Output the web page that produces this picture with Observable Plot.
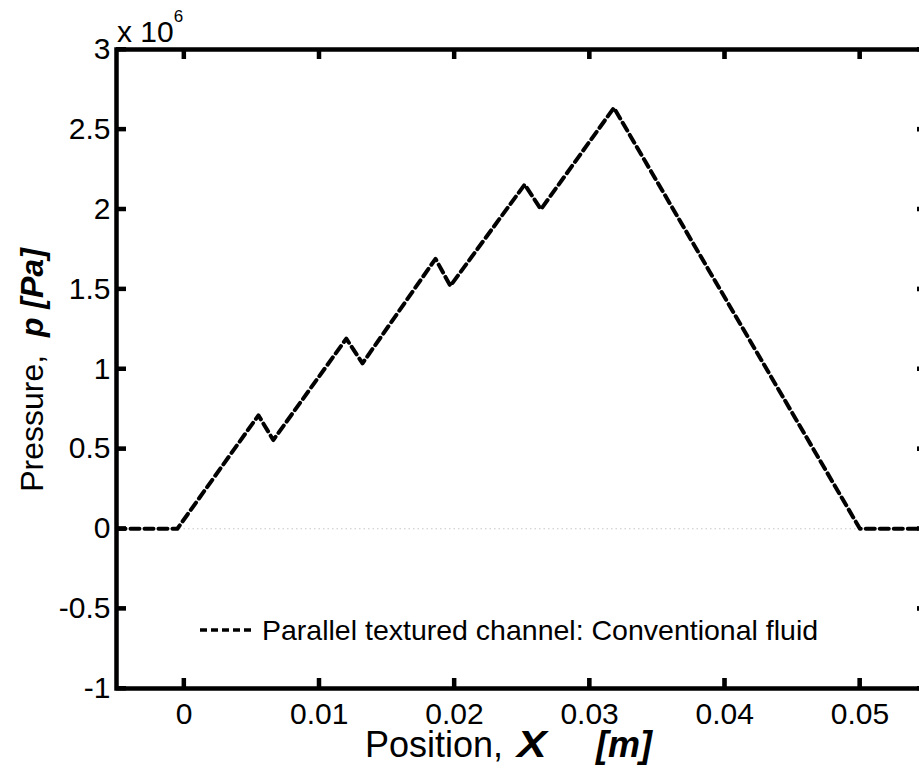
<!DOCTYPE html>
<html>
<head>
<meta charset="utf-8">
<script src="https://cdn.jsdelivr.net/npm/d3@7"></script>
<script src="https://cdn.jsdelivr.net/npm/@observablehq/plot@0.6"></script>
<style>
  html, body { margin: 0; padding: 0; background: #fff; }
  #wrap { width: 919px; height: 769px; overflow: hidden; position: relative; }
  #wrap svg { max-width: none !important; width: 930px !important; height: 769px !important; font-family: "Liberation Sans", Arial, sans-serif; }
</style>
</head>
<body>
<div id="wrap"></div>
<script>
// Position X [m]
const positions = [-0.005, -0.0005, 0.0055, 0.0066, 0.0120, 0.0132, 0.0186, 0.0197, 0.0252, 0.0264, 0.0318, 0.0500, 0.0550];
// Pressure p [Pa] in units of 10^6
const pressures = [0, 0, 0.71, 0.555, 1.19, 1.035, 1.69, 1.52, 2.155, 2.0, 2.635, 0, 0];

const xTicks = [0, 0.01, 0.02, 0.03, 0.04, 0.05];
const xTickLabels = ["0", "0.01", "0.02", "0.03", "0.04", "0.05"];
const yTicks = [-1, -0.5, 0, 0.5, 1, 1.5, 2, 2.5, 3];
const yTickLabels = ["-1", "-0.5", "0", "0.5", "1", "1.5", "2", "2.5", "3"];
const xDomain = [-0.005, 0.055];
const yDomain = [-1, 3];
const seriesName = "Parallel textured channel: Conventional fluid";

const data = positions.map((x, i) => ({x, p: pressures[i]}));
const xLab = d => xTickLabels[xTicks.indexOf(d)];
const yLab = d => yTickLabels[yTicks.indexOf(d)];

const W = 930, H = 769, ML = 116, MR = 3, MT = 49, MB = 81;
const FW = W - ML - MR, FH = H - MT - MB;
const T = 10; // inward tick length in px
const TW = 4; // tick thickness
const tx = T * (xDomain[1] - xDomain[0]) / FW;
const ty = T * (yDomain[1] - yDomain[0]) / FH;
const tk = {stroke: "black", strokeWidth: TW};
const labelStyle = {fontSize: 30, fill: "black", label: null};

const plot = Plot.plot({
  width: W,
  height: H,
  marginLeft: ML,
  marginRight: MR,
  marginTop: MT,
  marginBottom: MB,
  x: {domain: xDomain},
  y: {domain: yDomain},
  style: {fontFamily: "'Liberation Sans', Arial, sans-serif", background: "white", overflow: "visible"},
  marks: [
    Plot.ruleY([0], {stroke: "#c8c8c8", strokeWidth: 1.2, strokeDasharray: "1.5,3"}),
    Plot.line(data, {x: "x", y: "p", stroke: "black", strokeWidth: 4, strokeDasharray: "9,5", clip: true}),
    Plot.axisY({anchor: "left", ticks: yTicks, tickSize: 0, tickPadding: 6, tickFormat: yLab, ...labelStyle}),
    Plot.axisX({anchor: "bottom", ticks: xTicks, tickSize: 0, tickPadding: 14, tickFormat: xLab, ...labelStyle}),
    Plot.frame({stroke: "black", strokeWidth: 4.5}),
    // inward ticks on all four sides
    Plot.ruleY(yTicks, {y: d => d, x1: () => xDomain[0], x2: () => xDomain[0] + tx, ...tk}),
    Plot.ruleY(yTicks, {y: d => d, x1: () => xDomain[1] - tx, x2: () => xDomain[1], ...tk}),
    Plot.ruleX(xTicks, {x: d => d, y1: () => yDomain[0], y2: () => yDomain[0] + ty, ...tk}),
    Plot.ruleX(xTicks, {x: d => d, y1: () => yDomain[1] - ty, y2: () => yDomain[1], ...tk})
  ]
});
document.getElementById("wrap").appendChild(plot);

const svg = d3.select(plot);
const ff = "'Liberation Sans', Arial, sans-serif";

// reinforce the inward ticks as filled rectangles placed with Plot's own scales
const sx = plot.scale("x"), sy = plot.scale("y");
const xL = sx.apply(xDomain[0]), xR = sx.apply(xDomain[1]);
const yB = sy.apply(yDomain[0]), yT = sy.apply(yDomain[1]);
const tg = svg.append("g").attr("fill", "black").attr("stroke", "none");
for (const v of yTicks) {
  const py = sy.apply(v);
  tg.append("rect").attr("x", xL).attr("y", py - TW / 2).attr("width", T).attr("height", TW);
  tg.append("rect").attr("x", xR - T).attr("y", py - TW / 2).attr("width", T).attr("height", TW);
}
for (const v of xTicks) {
  const px = sx.apply(v);
  tg.append("rect").attr("x", px - TW / 2).attr("y", yB - T).attr("width", TW).attr("height", T);
  tg.append("rect").attr("x", px - TW / 2).attr("y", yT).attr("width", TW).attr("height", T);
}

// exponent label
const ex = svg.append("text").attr("x", 117).attr("y", 42).attr("text-anchor", "start")
  .attr("font-size", 30).attr("font-family", ff).attr("fill", "black");
ex.append("tspan").text("x 10");
ex.append("tspan").attr("font-size", 17).attr("dy", -20).text("6");

// x axis label
svg.append("text").attr("x", 365).attr("y", 757).attr("text-anchor", "start")
  .attr("font-size", 36).attr("font-family", ff).attr("fill", "black").text("Position,");
svg.append("text").attr("transform", "translate(517,757) scale(1.2,1)").attr("text-anchor", "start")
  .attr("font-size", 37).attr("font-family", ff).attr("font-weight", "bold").attr("font-style", "italic")
  .attr("fill", "black").text("X");
svg.append("text").attr("x", 596).attr("y", 757).attr("text-anchor", "start")
  .attr("font-size", 36).attr("font-family", ff).attr("font-weight", "bold").attr("font-style", "italic")
  .attr("fill", "black").text("[m]");

// y axis label
const yl = svg.append("text").attr("transform", "translate(43,370) rotate(-90)").attr("text-anchor", "middle")
  .attr("font-size", 32).attr("font-family", ff).attr("fill", "black").style("white-space", "pre");
yl.append("tspan").text("Pressure,  ");
yl.append("tspan").attr("font-weight", "bold").attr("font-style", "italic").text("p [Pa]");

// legend
svg.append("line").attr("x1", 200).attr("x2", 255).attr("y1", 630).attr("y2", 630)
  .attr("stroke", "black").attr("stroke-width", 3.5).attr("stroke-dasharray", "7,4");
svg.append("text").attr("x", 262).attr("y", 640).attr("text-anchor", "start")
  .attr("font-size", 28.5).attr("font-family", ff).attr("fill", "black").text(seriesName);
</script>
</body>
</html>
